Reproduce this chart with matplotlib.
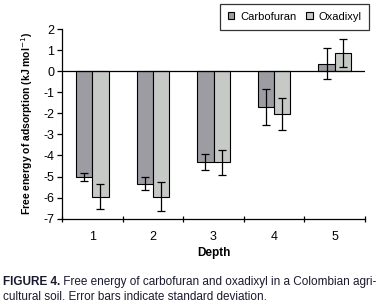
import matplotlib
matplotlib.use("Agg")
import matplotlib.pyplot as plt
import numpy as np

depths = ["1", "2", "3", "4", "5"]
carbofuran = [-5.03, -5.33, -4.33, -1.71, 0.35]
carbofuran_sd = [0.20, 0.31, 0.38, 0.85, 0.73]
oxadixyl = [-5.95, -5.95, -4.33, -2.05, 0.86]
oxadixyl_sd = [0.58, 0.69, 0.60, 0.76, 0.67]
yticks = [2, 1, 0, -1, -2, -3, -4, -5, -6, -7]

plt.rcParams['font.family'] = ['Liberation Sans Narrow', 'Liberation Sans', 'DejaVu Sans']

fig = plt.figure(figsize=(3.77, 3.04), dpi=100)
ax = fig.add_axes([62/377, 1 - 218.7/304, (365-62)/377, (218.7-29)/304])

x = np.arange(1, len(depths) + 1)
w = 0.27
ax.bar(x - w/2, carbofuran, w, color='#9c9ca2', edgecolor='black', linewidth=0.8,
       label='Carbofuran', zorder=2)
ax.bar(x + w/2, oxadixyl, w, color='#c6c9c6', edgecolor='black', linewidth=0.8,
       label='Oxadixyl', zorder=2)
ax.errorbar(x - w/2, carbofuran, yerr=carbofuran_sd, fmt='none', ecolor='black',
            elinewidth=0.9, capsize=2.6, capthick=0.9, zorder=3)
ax.errorbar(x + w/2, oxadixyl, yerr=oxadixyl_sd, fmt='none', ecolor='black',
            elinewidth=0.9, capsize=2.6, capthick=0.9, zorder=3)
ax.axhline(0, color='black', linewidth=0.9, zorder=4)

ax.set_xlim(0.5, len(depths) + 0.5)
ax.set_ylim(-7, 2)
ax.set_yticks(yticks)
ax.set_yticklabels([str(t) for t in yticks], fontsize=9)
ax.set_xticks(np.arange(0.5, len(depths) + 1, 1))
ax.set_xticklabels([])
ax.set_xticks(x, minor=True)
ax.set_xticklabels(depths, minor=True, fontsize=9)
ax.tick_params(axis='x', which='minor', length=0, pad=8.5)
ax.tick_params(axis='x', which='major', length=4, width=0.9, direction='inout')
ax.tick_params(axis='y', length=3.5, width=0.9, direction='out', pad=2)

for s in ['top', 'right']:
    ax.spines[s].set_visible(False)
for s in ['left', 'bottom']:
    ax.spines[s].set_linewidth(0.9)

ax.set_xlabel('Depth', fontsize=8.5, fontweight='bold', labelpad=3.5)
ax.set_ylabel('Free energy of adsorption (kJ mol$^{-1}$)', fontsize=7.5,
              fontweight='bold', labelpad=6)

leg = fig.legend(loc='upper left', bbox_to_anchor=(220/377, 1 - 4/304), ncol=2,
                 fontsize=8, frameon=True, fancybox=False, edgecolor='black',
                 handlelength=0.6, handleheight=0.6, handletextpad=0.5,
                 columnspacing=0.9, borderpad=0.7, borderaxespad=0)
leg.get_frame().set_linewidth(0.9)

t1 = fig.text(3/377, 1 - 285/304, 'FIGURE 4.', fontsize=8.5, fontweight='bold',
              color='#1a1a2e', va='baseline')
fig.canvas.draw()
ax.annotate(' Free energy of carbofuran and oxadixyl in a Colombian agri-',
            xy=(1, 0), xycoords=t1, fontsize=8.5, color='#1a1a2e', va='bottom',
            annotation_clip=False)
fig.text(3/377, 1 - 300/304, 'cultural soil. Error bars indicate standard deviation.',
         fontsize=8.5, color='#1a1a2e', va='baseline')

fig.savefig('out.png', dpi=100)
